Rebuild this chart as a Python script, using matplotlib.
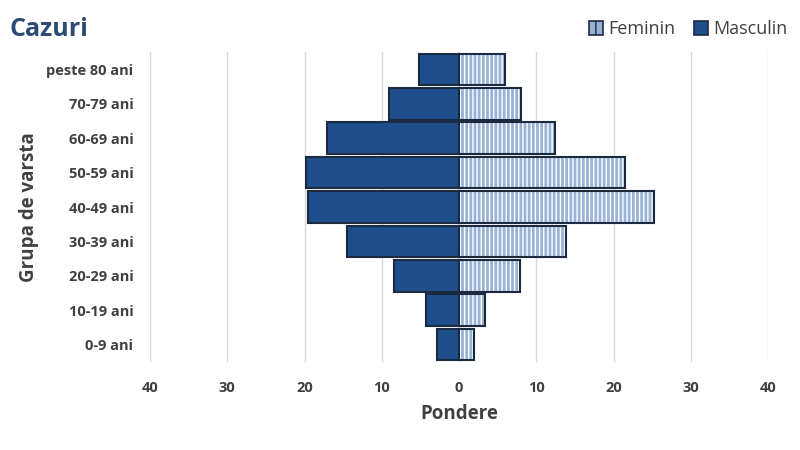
import matplotlib
matplotlib.use("Agg")
import matplotlib.pyplot as plt
from matplotlib.patches import Patch
import numpy as np

categories = ["0-9 ani", "10-19 ani", "20-29 ani", "30-39 ani", "40-49 ani",
              "50-59 ani", "60-69 ani", "70-79 ani", "peste 80 ani"]
masculin = [2.8, 4.3, 8.4, 14.5, 19.5, 19.8, 17.1, 9.1, 5.2]
feminin = [1.9, 3.4, 7.9, 13.8, 25.2, 21.5, 12.4, 8.0, 6.0]
xticks = [-40, -30, -20, -10, 0, 10, 20, 30, 40]
xticklabels = ["40", "30", "20", "10", "0", "10", "20", "30", "40"]

plt.rcParams['font.family'] = ['Open Sans', 'DejaVu Sans']
txt = "#404040"
dark_blue = "#1f4e8c"
light_blue = "#98b3d6"
edge = "#1c2a3f"

fig = plt.figure(figsize=(8, 4.5), dpi=100)
ax = fig.add_axes([0.1875, 0.196, 0.7725, 0.688])

y = np.arange(len(categories))
h = 0.92
ax.barh(y, [-m for m in masculin], height=h, color=dark_blue, edgecolor=edge, linewidth=1.5, zorder=3)
ax.barh(y, feminin, height=h, color=light_blue, edgecolor="white", hatch="||||", linewidth=0, zorder=3)
ax.barh(y, feminin, height=h, fill=False, edgecolor=edge, linewidth=1.5, zorder=4)

ax.set_xlim(-40, 40)
ax.set_ylim(-0.5, len(categories) - 0.5)
ax.set_xticks(xticks)
ax.set_xticklabels(xticklabels)
ax.set_yticks(y)
ax.set_yticklabels(categories)
ax.tick_params(axis='both', length=0, labelsize=10.5, labelcolor=txt)
ax.tick_params(axis='x', pad=14)
ax.tick_params(axis='y', pad=12)
for lbl in ax.get_xticklabels() + ax.get_yticklabels():
    lbl.set_fontweight('bold')
ax.grid(axis='x', color='#d9d9d9', linewidth=1, zorder=0)
for s in ax.spines.values():
    s.set_visible(False)

ax.set_xlabel("Pondere", fontsize=13.5, fontweight='bold', color=txt, labelpad=6)
ax.set_ylabel("Grupa de varsta", fontsize=13.5, fontweight='bold', color=txt, labelpad=5)

fig.text(0.012, 0.935, "Cazuri", fontsize=18, fontweight='bold', color="#2b4a74", va='center')

handles = [Patch(facecolor=light_blue, edgecolor=edge, hatch="||", linewidth=1.2),
           Patch(facecolor=dark_blue, edgecolor=edge, linewidth=1.2)]
leg = fig.legend(handles, ["Feminin", "Masculin"], loc='center right', bbox_to_anchor=(1.005, 0.935),
                 ncol=2, frameon=False, fontsize=13, handlelength=0.8, handleheight=0.8,
                 handletextpad=0.3, columnspacing=1.0)
for t in leg.get_texts():
    t.set_color(txt)

fig.savefig("out.png", dpi=100, facecolor="white")
